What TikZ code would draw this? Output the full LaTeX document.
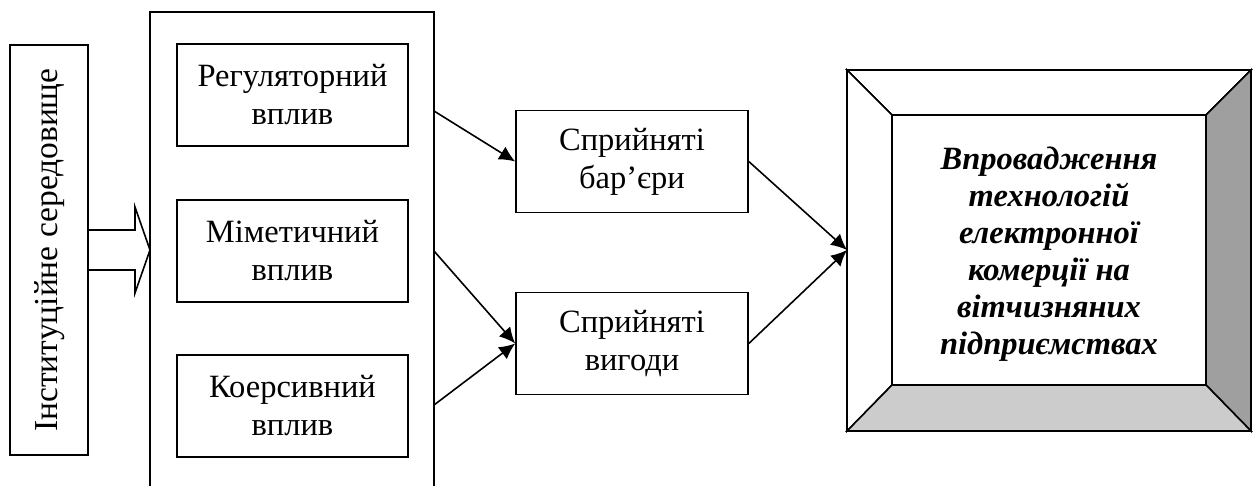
\documentclass[tikz,border=0pt]{standalone}
\usepackage{fontspec}
\setmainfont{Liberation Serif}
\usetikzlibrary{arrows.meta}
\begin{document}
\begin{tikzpicture}[x=1pt,y=-1pt,
  ln/.style={line width=1.6pt},
  box/.style={draw,ln,minimum width=#1,align=center,inner sep=0pt,font=\fontsize{32.5}{38}\selectfont},
  arr/.style={ln,-{Latex[length=16pt,width=15pt]}},
  txt/.style={font=\fontsize{33.5}{40}\selectfont}]
\useasboundingbox (0,0) rectangle (1257,485);
% left vertical box
\node[box=78pt,minimum height=410pt] (env) at (49,250) {};
\node[txt,rotate=90] (envt) at (50,250) {Інституційне середовище};
% block arrow
\draw[ln,line join=miter] (88,230) -- (135,230) -- (135,207) -- (150,250) -- (135,293) -- (135,270) -- (88,270);
% container
\draw[ln] (150,486) -- (150,12) -- (434,12) -- (434,486);
\coordinate (c1) at (434,111);
\coordinate (c2) at (434,251);
\coordinate (c3) at (434,405);
% inner boxes
\node[box=231pt,minimum height=102pt] (reg) at (292.5,95) {Регуляторний\\вплив};
\node[box=231pt,minimum height=102pt] (mim) at (292.5,251) {Міметичний\\вплив};
\node[box=231pt,minimum height=102pt] (koe) at (292.5,406) {Коерсивний\\вплив};
% middle boxes
\node[box=232pt,minimum height=102pt] (bar) at (632,161.5) {Сприйняті\\бар’єри};
\node[box=232pt,minimum height=102pt] (vyg) at (632,343.5) {Сприйняті\\вигоди};
\draw[arr] (c1) -- (bar.west);
\draw[arr] (c2) -- (vyg.west);
\draw[arr] (c3) -- (vyg.west);
% bevel box
\fill[white] (847,70) rectangle (1251,431);
\filldraw[ln,fill=white] (847,70) -- (1251,70) -- (1206,115) -- (892,115) -- cycle;
\filldraw[ln,fill=white] (847,70) -- (892,115) -- (892,385) -- (847,431) -- cycle;
\filldraw[ln,fill=gray!75] (1251,70) -- (1251,431) -- (1206,385) -- (1206,115) -- cycle;
\filldraw[ln,fill=gray!40] (847,431) -- (1251,431) -- (1206,385) -- (892,385) -- cycle;
\node[draw,ln,minimum width=314pt,minimum height=270pt,inner sep=0pt] (main) at (1049,250) {};
\node[align=center,font=\fontsize{32.5}{37}\selectfont\bfseries\itshape] (maint) at (1049,254) {Впровадження\\технологій\\електронної\\комерції на\\вітчизняних\\підприємствах};
\coordinate (mw) at (847,250);
\draw[arr] (bar.east) -- (mw);
\draw[arr] (vyg.east) -- (mw);
\end{tikzpicture}
\end{document}
